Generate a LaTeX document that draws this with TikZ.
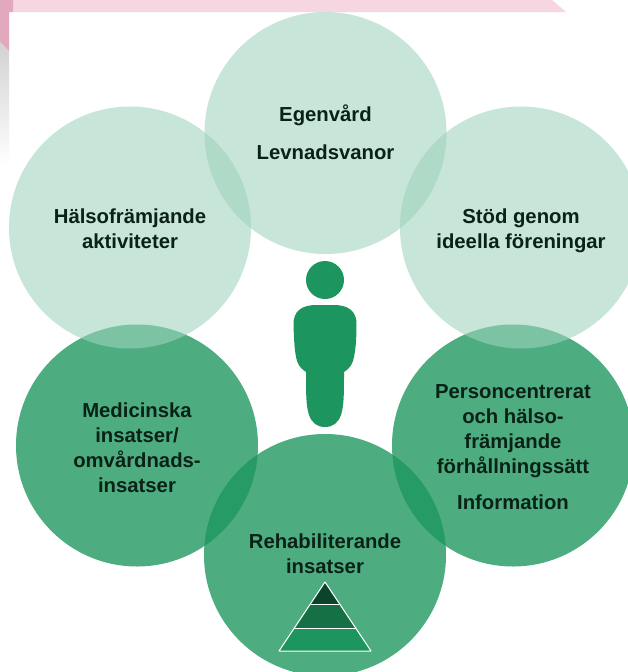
\documentclass[tikz,border=0pt]{standalone}
\usepackage{fontspec}
\setmainfont{Liberation Sans}
\definecolor{lightg}{HTML}{9FD3BC}
\definecolor{darkg}{HTML}{1C965E}
\definecolor{persong}{HTML}{1C965E}
\definecolor{txt}{HTML}{0A2216}
\definecolor{pinkbar}{HTML}{F6D6E1}
\definecolor{pinkdark}{HTML}{E2A9BE}
\tikzset{
  x=1pt,y=-1pt,
  lightc/.style={circle,minimum size=242pt,inner sep=0pt,fill=lightg,fill opacity=0.58,text opacity=1},
  darkc/.style={circle,minimum size=242pt,inner sep=0pt,fill=darkg,fill opacity=0.78,text opacity=1},
  lbl/.style={align=center,font=\fontsize{20.3}{25}\selectfont\bfseries,text=txt},
}
\begin{document}
\begin{tikzpicture}
\useasboundingbox (0,0) rectangle (628,672);
\fill[white] (0,0) rectangle (628,672);
% background decoration
\fill[pinkbar] (13,0) -- (552,0) -- (566,12) -- (13,12) -- cycle;
\fill[pinkdark] (0,0) -- (13,0) -- (13,12) -- (9,12) -- (9,51) -- (0,42) -- cycle;
\shade[top color=black!18,bottom color=white] (0,42) -- (9,51) -- (9,165) -- (0,165) -- cycle;
% circles
\node[darkc] (ml) at (137,445.5) {};
\node[darkc] (mr) at (513,445.5) {};
\node[darkc] (bot) at (325,555) {};
\node[lightc] (top) at (325.5,133) {};
\node[lightc] (left) at (130,227.5) {};
\node[lightc] (right) at (521,227.5) {};
% labels
\node[lbl] (t1) at (325.5,115) {Egenvård};
\node[lbl] (t2) at (325.5,152) {Levnadsvanor};
\node[lbl] (t3) at (130,229) {Hälsofrämjande\\aktiviteter};
\node[lbl] (t4) at (521,231) {Stöd genom\\ideella föreningar};
\node[lbl] (t5) at (137,448) {Medicinska\\insatser/\\omvårdnads-\\insatser};
\node[lbl] (t6) at (513,431) {Personcentrerat\\och hälso-\\främjande\\förhållningssätt};
\node[lbl] (t7) at (513,502) {Information};
\node[lbl] (t8) at (325,554) {Rehabiliterande\\insatser};
% person
\fill[persong] (325,280) circle (19);
\fill[persong] (316,305) .. controls (302,305) and (293,311) .. (293.5,325)
  .. controls (294,340) and (294.5,352) .. (297,361)
  .. controls (299,367) and (303,370) .. (306,372)
  .. controls (306,395) and (306,405) .. (309,415)
  .. controls (312,423) and (317,427) .. (325,427)
  .. controls (333,427) and (338,423) .. (341,415)
  .. controls (344,405) and (344,395) .. (344,372)
  .. controls (347,370) and (351,367) .. (353,361)
  .. controls (355.5,352) and (356.5,340) .. (356.5,325)
  .. controls (357,311) and (348,305) .. (334,305) -- cycle;
% pyramid
\fill[black!40!persong!75!black] (325,582) -- (311,604) -- (339,604) -- cycle;
\fill[persong!75!black] (311,604) -- (339,604) -- (356,628) -- (294,628) -- cycle;
\fill[persong] (294,628) -- (356,628) -- (371,651) -- (279,651) -- cycle;
\draw[white,line width=1pt,line join=round] (325,582) -- (371,651) -- (279,651) -- cycle;
\draw[white,line width=1pt] (311,604) -- (339,604) (294,628) -- (356,628);
\end{tikzpicture}
\end{document}
